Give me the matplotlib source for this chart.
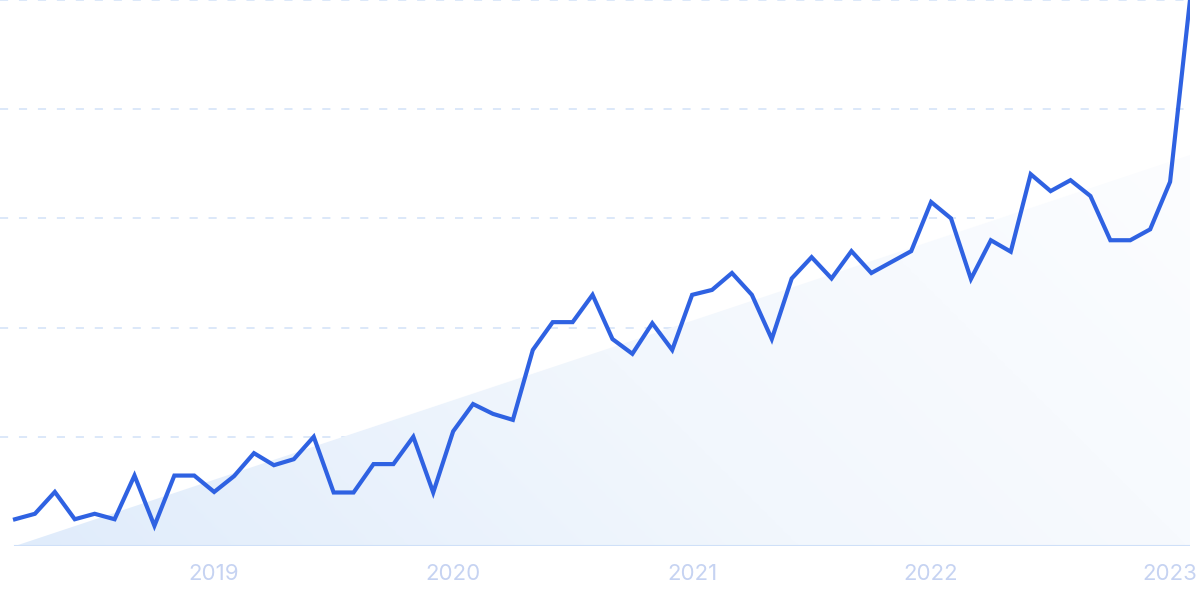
import matplotlib
matplotlib.use("Agg")
import matplotlib.pyplot as plt
import numpy as np
from matplotlib.patches import Polygon
from matplotlib.colors import LinearSegmentedColormap

# Monthly values, Mar 2018 .. Feb 2023 (0-100 scale)
values = [4.9, 5.9, 9.9, 4.9, 5.9, 4.9, 12.9, 3.7, 12.9, 12.9,
          9.9, 12.8, 17.0, 14.8, 15.9, 20.0, 9.8, 9.8, 15.0, 15.0,
          20.0, 9.8, 21.0, 26.0, 24.2, 23.1, 35.9, 41.0, 41.0, 46.0,
          37.9, 35.2, 40.8, 35.9, 46.0, 46.9, 50.0, 46.0, 37.9, 49.0,
          52.9, 49.0, 54.0, 50.0, 52.0, 54.0, 63.0, 60.0, 48.9, 56.0,
          53.9, 68.1, 65.0, 67.0, 64.1, 56.0, 56.0, 58.0, 66.7, 100.0]
trend = [0.0, 71.6]  # trend line start / end values
year_labels = ["2019", "2020", "2021", "2022", "2023"]
year_idx = [10, 22, 34, 46, 58]
y_grid = [20, 40, 60, 80, 100]

W, H = 1200, 599
fig = plt.figure(figsize=(W / 100, H / 100), dpi=100)
ax = fig.add_axes([0, (H - 546) / H, 1190 / W, 546 / H])
x = np.arange(len(values))
ax.set_xlim(-15 / 19.9, len(values) - 1)
ax.set_ylim(0, 100)

# gradient-filled trend area
poly_pts = [(x[0], trend[0]), (x[-1], trend[1]), (x[-1], 0)]
poly = Polygon(poly_pts, closed=True, facecolor="none", edgecolor="none")
ax.add_patch(poly)
cmap = LinearSegmentedColormap.from_list("g", ["#e0ecfb", "#f2f7fd", "#fcfdff"])
gx, gy = np.meshgrid(np.linspace(0, 1, 300), np.linspace(0, 1, 150))
grad = 0.75 * gx + 0.25 * (1 - gy)
im = ax.imshow(grad, extent=[x[0], x[-1], 0, trend[1]], origin="upper",
               cmap=cmap, aspect="auto", zorder=1, interpolation="bicubic")
im.set_clip_path(poly)

# gridlines
for g in y_grid:
    ax.axhline(g, color="#d9e6f9", lw=1.3, dashes=(4.5, 6), zorder=0.5, clip_on=False)
ax.axhline(0, xmin=(15 / 19.9) / (59 + 15 / 19.9), color="#cfe0f8", lw=1.5, zorder=2)

ax.plot(x, values, color="#2f62e2", lw=3, solid_joinstyle="miter", zorder=3, clip_on=True)

ax.set_xticks(year_idx)
ax.set_xticklabels(year_labels)
ax.tick_params(axis="x", length=0, pad=13, labelsize=16, labelcolor="#c6d3f2")
for t in ax.get_xticklabels():
    t.set_fontfamily(["Inter", "DejaVu Sans"])
ax.set_yticks([])
for s in ax.spines.values():
    s.set_visible(False)

fig.savefig("out.png", dpi=100)
